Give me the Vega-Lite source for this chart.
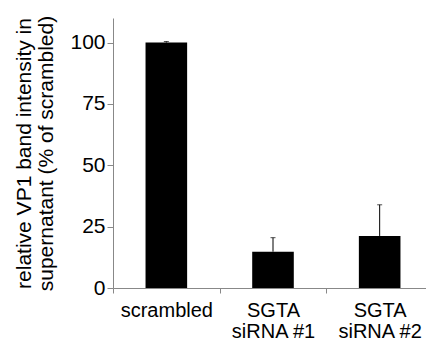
{
  "$schema": "https://vega.github.io/schema/vega-lite/v6.json",
  "width": 320,
  "height": 270,
  "autosize": {"type": "none"},
  "padding": {"left": 113, "top": 18, "right": 0, "bottom": 59},
  "background": "white",
  "config": {
    "view": {"stroke": null},
    "font": "Liberation Sans",
    "axis": {"grid": false, "domainColor": "#888888", "tickColor": "#888888", "labelColor": "#000000", "titleColor": "#000000", "labelFont": "Liberation Sans", "titleFont": "Liberation Sans", "titleFontWeight": "normal", "labelFontSize": 20}
  },
  "data": {
    "values": [
      {"group": "scrambled", "value": 100, "upper": 100.4},
      {"group": "SGTA|siRNA #1", "value": 14.8, "upper": 20.5},
      {"group": "SGTA|siRNA #2", "value": 21.2, "upper": 33.9}
    ]
  },
  "encoding": {
    "x": {
      "field": "group",
      "type": "nominal",
      "sort": null,
      "scale": {"paddingInner": 0, "paddingOuter": 0},
      "axis": {
        "title": null,
        "labelAngle": 0,
        "labelExpr": "split(datum.label, '|')",
        "labelFontSize": 20,
        "labelLineHeight": 21,
        "labelPadding": 7,
        "tickSize": 5,
        "tickBand": "extent",
        "labelBaseline": "top"
      }
    }
  },
  "layer": [
    {
      "mark": {"type": "bar", "color": "#000000", "width": {"band": 0.39}},
      "encoding": {
        "y": {
          "field": "value",
          "type": "quantitative",
          "scale": {"domain": [0, 110], "nice": false},
          "axis": {
            "values": [0, 25, 50, 75, 100],
            "title": ["relative VP1 band intensity in", "supernatant  (% of scrambled)"],
            "titleFontSize": 21,
            "titleLineHeight": 22,
            "titlePadding": 13,
            "labelFontSize": 21,
            "labelPadding": 2,
            "tickSize": 6
          }
        }
      }
    },
    {
      "mark": {"type": "rule", "color": "#000000", "strokeWidth": 1},
      "encoding": {
        "y": {"field": "value", "type": "quantitative"},
        "y2": {"field": "upper"}
      }
    },
    {
      "mark": {"type": "tick", "color": "#000000", "size": 5, "thickness": 1},
      "encoding": {
        "y": {"field": "upper", "type": "quantitative"}
      }
    }
  ]
}
